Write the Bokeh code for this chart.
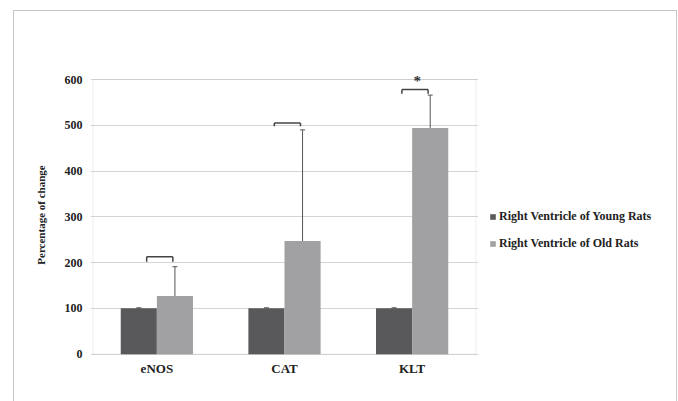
from bokeh.plotting import figure
from bokeh.layouts import row
from bokeh.models import (FactorRange, Range1d, ColumnDataSource, Whisker, TeeHead,
                          Legend, LegendItem, Label, BoxAnnotation, FixedTicker,
                          InlineStyleSheet)
from bokeh.transform import dodge
from bokeh.embed import file_html
from bokeh.resources import INLINE

# ---- data ----
categories = ["eNOS", "CAT", "KLT"]
young_values = [100, 100, 100]
young_err = [1, 1, 1]
old_values = [127, 247, 494]
old_err = [64, 243, 72]
bracket_top = [213, 505, 578]
bracket_bottom = [202, 498, 569]
star_category = "KLT"
star_y = 597
y_ticks = [0, 100, 200, 300, 400, 500, 600]
series_names = ["Right Ventricle of Young Rats", "Right Ventricle of Old Rats"]

FONT = "Liberation Serif"
YOUNG = "#59595c"
OLD = "#a1a1a4"
BOX = "#c2c2c2"

src = ColumnDataSource(dict(
    cat=categories,
    young=young_values,
    young_up=[v + e for v, e in zip(young_values, young_err)],
    old=old_values,
    old_up=[v + e for v, e in zip(old_values, old_err)],
    btop=bracket_top,
    bbot=bracket_bottom,
))

p = figure(x_range=FactorRange(*categories, range_padding=0.02, range_padding_units="absolute"),
           y_range=Range1d(-3, 611),
           width=478, height=393, output_backend="svg", toolbar_location=None,
           min_border_left=90, min_border_right=0, min_border_top=74, min_border_bottom=38)

p.background_fill_color = "white"
p.border_fill_color = "white"
p.outline_line_color = None
p.xgrid.grid_line_color = None
p.ygrid.grid_line_color = "#d4d4d4"
p.yaxis.ticker = FixedTicker(ticks=y_ticks)

for ax in (p.xaxis, p.yaxis):
    ax.axis_line_color = None
    ax.major_tick_line_color = None
    ax.minor_tick_line_color = None
    ax.major_tick_out = 0
    ax.major_tick_in = 0
    ax.major_label_text_font = FONT
    ax.major_label_text_font_style = "bold"
    ax.major_label_text_color = "#222222"
p.yaxis.major_label_text_font_size = "12px"
p.yaxis.major_label_standoff = 8
p.xaxis.major_label_text_font_size = "13px"
p.xaxis.major_label_standoff = 5

p.yaxis.axis_label = "Percentage of change"
p.yaxis.axis_label_text_font = FONT
p.yaxis.axis_label_text_font_style = "bold"
p.yaxis.axis_label_text_font_size = "11px"
p.yaxis.axis_label_text_color = "#222222"
p.yaxis.axis_label_standoff = 15

# plot-area box (0..600, spanning the category axis)
p.add_layout(BoxAnnotation(left=0, right=len(categories), bottom=0, top=y_ticks[-1],
                           fill_alpha=0, line_color=BOX, line_width=1, level="underlay"))

bw = 0.283
off = bw / 2
r_young = p.vbar(x=dodge("cat", -off, range=p.x_range), top="young", width=bw,
                 source=src, fill_color=YOUNG, line_color=None)
r_old = p.vbar(x=dodge("cat", off, range=p.x_range), top="old", width=bw,
               source=src, fill_color=OLD, line_color=None)

# error bars (upper only)
w_old = Whisker(base=dodge("cat", off, range=p.x_range), upper="old_up", lower="old",
                source=src, line_color="#555555", line_width=1,
                upper_head=TeeHead(size=5, line_color="#555555", line_width=1), lower_head=None)
w_young = Whisker(base=dodge("cat", -off, range=p.x_range), upper="young_up", lower="young",
                  source=src, line_color="#333333", line_width=1,
                  upper_head=TeeHead(size=5, line_color="#333333", line_width=1), lower_head=None)
p.add_layout(w_old)
p.add_layout(w_young)

# significance brackets
bl, br = -0.08, 0.125
p.segment(x0=dodge("cat", bl, range=p.x_range), x1=dodge("cat", br, range=p.x_range),
          y0="btop", y1="btop", source=src, line_color="#444444", line_width=1.5)
p.segment(x0=dodge("cat", bl, range=p.x_range), x1=dodge("cat", bl, range=p.x_range),
          y0="btop", y1="bbot", source=src, line_color="#444444", line_width=1.5)
p.segment(x0=dodge("cat", br, range=p.x_range), x1=dodge("cat", br, range=p.x_range),
          y0="btop", y1="bbot", source=src, line_color="#444444", line_width=1.5)

star_x = categories.index(star_category) + 0.5 + 0.04
p.add_layout(Label(x=star_x, y=star_y, text="*", text_font=FONT, text_font_style="bold",
                   text_font_size="15px", text_align="center", text_baseline="middle",
                   text_color="#333333"))

# legend panel (separate canvas to the right of the plot)
q = figure(width=192, height=393, x_range=Range1d(0, 1), y_range=Range1d(0, 1),
           output_backend="svg", toolbar_location=None,
           x_axis_location=None, y_axis_location=None,
           min_border=0, min_border_left=0, min_border_right=0,
           min_border_top=0, min_border_bottom=0)
q.grid.visible = False
q.outline_line_color = None
q.background_fill_color = "white"
q.border_fill_color = "white"
# legend swatches only (their single bar lies outside the visible range)
k_young = q.vbar(x=[5], top=[1], width=0.1, fill_color=YOUNG, line_color=None)
k_old = q.vbar(x=[5], top=[1], width=0.1, fill_color=OLD, line_color=None)

legend = Legend(items=[LegendItem(label=series_names[0], renderers=[k_young]),
                       LegendItem(label=series_names[1], renderers=[k_old])],
                location=(11, 104), orientation="vertical",
                glyph_width=7, glyph_height=7, label_height=14, spacing=12,
                label_standoff=3, padding=0, margin=0,
                border_line_color=None, background_fill_alpha=0,
                label_text_font=FONT, label_text_font_style="bold",
                label_text_font_size="12px", label_text_color="#222222")
q.add_layout(legend)

frame_css = InlineStyleSheet(css="""
:host { position: relative; }
:host::after {
  content: ""; position: absolute; left: 13px; top: 10px;
  width: 662px; height: 420px;
  border: 1px solid #c6c6c6; border-bottom: none;
  pointer-events: none; z-index: 5;
}
""")
layout = row(p, q, spacing=0, stylesheets=[frame_css])

open("out.html", "w").write(file_html(layout, INLINE))
